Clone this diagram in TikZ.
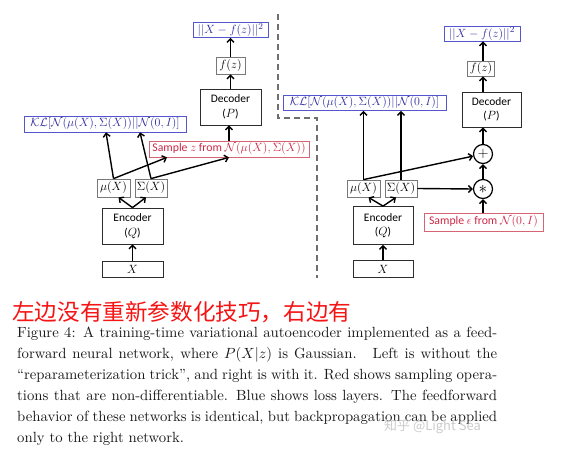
\documentclass[tikz,border=0pt]{standalone}
\usepackage{graphicx}
\usepackage{fontspec}
\newfontfamily\carlito{Carlito}
\newfontfamily\cjk{Noto Sans CJK SC}
\usetikzlibrary{arrows.meta,calc}
\definecolor{lossblue}{RGB}{85,85,205}
\definecolor{losstext}{RGB}{45,45,160}
\definecolor{sampred}{RGB}{215,100,115}
\definecolor{samptext}{RGB}{205,40,70}
\definecolor{grayedge}{RGB}{120,120,120}
\definecolor{darkedge}{RGB}{45,45,45}
\definecolor{dashgray}{RGB}{110,110,110}
\definecolor{cnred}{RGB}{245,20,20}
\definecolor{captext}{RGB}{25,25,25}
\newcommand{\capl}[1]{\scalebox{1.48}{\makebox[324.3bp][s]{#1}}}
\tikzset{
  basebox/.style={draw, inner sep=0pt, line width=0.8bp, align=center},
  darkbox/.style={basebox, draw=darkedge, font=\carlito\fontsize{11.5}{14.5}\selectfont},
  graybox/.style={basebox, draw=grayedge, font=\fontsize{12.3}{13}\selectfont},
  lossbox/.style={basebox, draw=lossblue, text=losstext, font=\fontsize{12.3}{13}\selectfont},
  samplebox/.style={basebox, draw=sampred, text=samptext, font=\carlito\fontsize{11.8}{13}\selectfont},
  opcirc/.style={circle, draw=black, line width=1.2bp, minimum size=19bp, inner sep=0pt},
  arr/.style={-{Straight Barb[length=3.5bp,width=7bp]}, line width=1.4bp, black},
  divider/.style={dashgray, line width=1.8bp, dash pattern=on 6bp off 4bp},
  capline/.style={anchor=base west, inner sep=0pt, text=captext, font=\fontsize{10}{12}\selectfont},
}
\begin{document}
\begin{tikzpicture}[x=1bp,y=-1bp]
\fill[white] (0,0) rectangle (576,471);
\useasboundingbox (0,0) rectangle (576,471);

% ---------- left network ----------
\node[lossbox, minimum width=162bp, minimum height=16bp] (kl) at (105,124)
  {$\mathcal{KL}[\mathcal{N}(\mu(X),\Sigma(X))||\mathcal{N}(0,I)]$};
\node[lossbox, minimum width=75bp, minimum height=15bp] (loss) at (230.5,30) {$||X-f(z)||^2$};
\node[graybox, minimum width=29bp, minimum height=17bp] (fz) at (230.5,65.5) {$f(z)$};
\node[darkbox, minimum width=61bp, minimum height=36bp] (dec) at (230.5,107) {Decoder\\($P$)};
\node[samplebox, minimum width=160bp, minimum height=16bp] (samp) at (229,149)
  {Sample $z$ from $\mathcal{N}(\mu(X),\Sigma(X))$};
\node[graybox, minimum width=33bp, minimum height=18bp] (mu) at (113.5,188) {$\mu(X)$};
\node[graybox, minimum width=32bp, minimum height=18bp] (sig) at (151,188) {$\Sigma(X)$};
\node[darkbox, minimum width=61bp, minimum height=36bp] (enc) at (132.5,226) {Encoder\\($Q$)};
\node[darkbox, font=\fontsize{12.3}{13}\selectfont, minimum width=61bp, minimum height=16bp] (xin) at (132.5,269) {$X$};

\draw[arr] (xin.north) -- (enc.south);
\draw[arr] (enc.north) -- ([xshift=5bp]mu.south);
\draw[arr] (enc.north) -- ([xshift=-5bp]sig.south);
\draw[arr] (mu.north) -- ([xshift=1bp]kl.south);
\draw[arr] (sig.north) -- ([xshift=35bp]kl.south);
\draw[arr] (mu.north) -- ([xshift=-62bp]samp.south);
\draw[arr] (sig.north) -- (samp.south);
\draw[arr] (samp.north) -- (samp.north |- dec.south);
\draw[arr] (dec.north) -- (fz.south);
\draw[arr] (fz.north) -- (loss.south);

% ---------- divider ----------
\coordinate (d1) at (278,14);
\coordinate (d2) at (278,118);
\coordinate (d3) at (317,118);
\coordinate (d4) at (317,278);
\draw[divider] (d1) -- (d2) -- (d3) -- (d4);

% ---------- right network ----------
\node[lossbox, minimum width=76bp, minimum height=15bp] (loss2) at (482,33.5) {$||X-f(z)||^2$};
\node[graybox, minimum width=27bp, minimum height=15bp] (fz2) at (481,68.5) {$f(z)$};
\node[darkbox, minimum width=59bp, minimum height=35bp] (dec2) at (491.5,109.5) {Decoder\\($P$)};
\node[lossbox, minimum width=163bp, minimum height=15bp] (kl2) at (364.5,103)
  {$\mathcal{KL}[\mathcal{N}(\mu(X),\Sigma(X))||\mathcal{N}(0,I)]$};
\node[graybox, minimum width=33bp, minimum height=17bp] (mu2) at (363.5,188.5) {$\mu(X)$};
\node[graybox, minimum width=32bp, minimum height=17bp] (sig2) at (401,188.5) {$\Sigma(X)$};
\node[darkbox, minimum width=60bp, minimum height=38bp] (enc2) at (383,225.5) {Encoder\\($Q$)};
\node[darkbox, font=\fontsize{12.3}{13}\selectfont, minimum width=60bp, minimum height=17bp] (xin2) at (383,269) {$X$};
\node[opcirc, font=\fontsize{14}{14}\selectfont] (plus) at (483,154) {$+$};
\node[opcirc, font=\fontsize{17}{17}\selectfont] (star) at (483,189) {$\ast$};
\node[samplebox, minimum width=119bp, minimum height=18bp] (eps) at (483.5,222)
  {Sample $\epsilon$ from $\mathcal{N}(0,I)$};

\draw[arr] (xin2.north) -- (enc2.south);
\draw[arr] (enc2.north) -- ([xshift=5bp]mu2.south);
\draw[arr] (enc2.north) -- ([xshift=-5bp]sig2.south);
\draw[arr] (mu2.north) -- (mu2.north |- kl2.south);
\draw[arr] (sig2.north) -- (sig2.north |- kl2.south);
\draw[arr] (mu2.north) -- (plus);
\draw[arr] (sig2.east) -- (star.west);
\draw[arr] (eps.north -| star) -- (star.south);
\draw[arr] (star.north) -- (plus.south);
\draw[arr] (plus.north) -- (plus.north |- dec2.south);
\draw[arr] (dec2.north -| plus) -- (fz2.south -| plus);
\draw[arr] (fz2.north -| plus) -- (loss2.south -| plus);

% ---------- texts ----------
\node[anchor=base west, inner sep=0pt, text=cnred, font=\cjk\fontsize{22.7}{24}\selectfont] (cn) at (12,320)
  {左边没有重新参数化技巧，右边有};
\node[capline] (c1) at (17,337) {\capl{Figure 4: A training-time variational autoencoder implemented as a feed-}};
\node[capline] (c2) at (17,358) {\capl{forward neural network, where $P(X|z)$ is Gaussian. \ Left is without the}};
\node[capline] (c3) at (17,379) {\capl{``reparameterization trick'', and right is with it. Red shows sampling opera-}};
\node[capline] (c4) at (17,400) {\capl{tions that are non-differentiable. Blue shows loss layers. The feedforward}};
\node[capline] (c5) at (17,421) {\capl{behavior of these networks is identical, but backpropagation can be applied}};
\node[capline] (c6) at (17,442) {\scalebox{1.48}{only to the right network.}};
\node[anchor=base west, inner sep=0pt, text=black!20, font=\cjk\fontsize{13}{14}\selectfont] (wm) at (384,430) {知乎 @Light Sea};
\end{tikzpicture}
\end{document}
